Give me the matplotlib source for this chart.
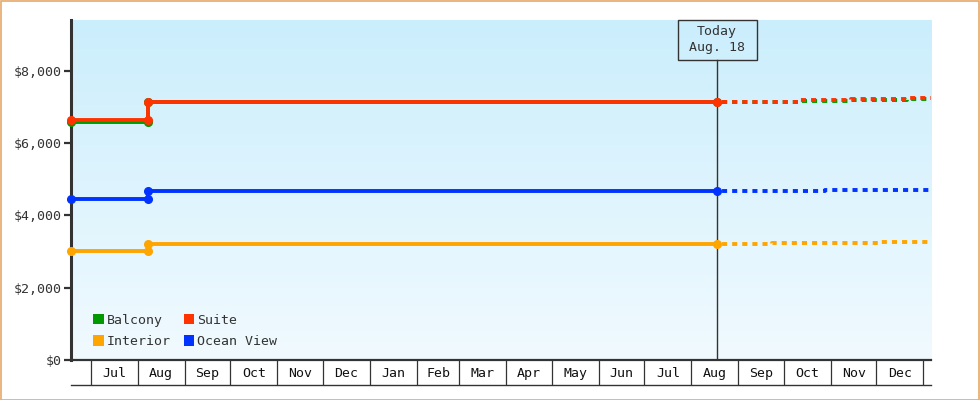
import matplotlib
matplotlib.use('Agg')
import matplotlib.pyplot as plt
import matplotlib.dates as mdates
import matplotlib.transforms as mtransforms
import numpy as np
import pandas as pd
from matplotlib.patches import Patch, Rectangle

# ---------------- data ----------------
categories = ['Balcony', 'Suite', 'Interior', 'Ocean View']
series_colors = ['#009900', '#ff3300', '#ffa500', '#0033ff']

hist_dates = ['2017-06-18', '2017-08-08', '2017-08-08', '2018-08-18']
balcony_hist = [6590, 6590, 7125, 7125]
suite_hist = [6640, 6640, 7145, 7145]
interior_hist = [3020, 3020, 3210, 3210]
ocean_hist = [4450, 4450, 4660, 4660]

balcony_fc_dates = ['2018-08-18', '2018-10-10', '2018-11-14', '2018-12-21', '2019-01-06']
balcony_fc = [7120, 7150, 7185, 7215, 7215]
suite_fc_dates = ['2018-08-18', '2018-10-10', '2018-11-14', '2018-12-21', '2019-01-06']
suite_fc = [7145, 7195, 7225, 7255, 7255]
interior_fc_dates = ['2018-08-18', '2018-09-23', '2018-12-02', '2019-01-06']
interior_fc = [3210, 3240, 3265, 3265]
ocean_fc_dates = ['2018-08-18', '2018-10-28', '2019-01-06']
ocean_fc = [4660, 4690, 4690]

month_starts = ['2017-07-01', '2017-08-01', '2017-09-01', '2017-10-01', '2017-11-01',
                '2017-12-01', '2018-01-01', '2018-02-01', '2018-03-01', '2018-04-01',
                '2018-05-01', '2018-06-01', '2018-07-01', '2018-08-01', '2018-09-01',
                '2018-10-01', '2018-11-01', '2018-12-01', '2019-01-01']
month_labels = ['Jul', 'Aug', 'Sep', 'Oct', 'Nov', 'Dec', 'Jan', 'Feb', 'Mar', 'Apr',
                'May', 'Jun', 'Jul', 'Aug', 'Sep', 'Oct', 'Nov', 'Dec']
y_ticks = [0, 2000, 4000, 6000, 8000]
y_tick_labels = ['$0', '$2,000', '$4,000', '$6,000', '$8,000']
today_date = '2018-08-18'
today_label = 'Today\nAug. 18'
x_start, x_end = '2017-06-18', '2019-01-06'
y_max = 9400

# ---------------- figure ----------------
W, H, DPI = 980, 400, 100
AX_L, AX_B, AX_W, AX_H = 71, 40, 860, 340
fig = plt.figure(figsize=(W / DPI, H / DPI), dpi=DPI)
fig.patch.set_facecolor('white')
fig.patches.append(Rectangle((0.5 / W, 0.5 / H), 1 - 1.5 / W, 1 - 1.5 / H,
                             transform=fig.transFigure, fill=False,
                             edgecolor='#e6a96b', linewidth=1.2))

ax = fig.add_axes([AX_L / W, AX_B / H, AX_W / W, AX_H / H])
FONT = 'DejaVu Sans Mono'
DARK = '#333333'

# gradient background
top = np.array([203, 238, 252]) / 255.0
bot = np.array([241, 250, 255]) / 255.0
t = np.linspace(0, 1, 256)[:, None]
grad = (top[None, :] * (1 - t) + bot[None, :] * t)[:, None, :]
ax.imshow(grad, extent=[0, 1, 0, 1], transform=ax.transAxes, aspect='auto',
          zorder=0, interpolation='bilinear')

to_d = lambda lst: pd.to_datetime(lst)
hd = to_d(hist_dates)

lw = 2.8
ms = 5.5
hist_vals = [balcony_hist, suite_hist, interior_hist, ocean_hist]
fc_dates = [balcony_fc_dates, suite_fc_dates, interior_fc_dates, ocean_fc_dates]
fc_vals = [balcony_fc, suite_fc, interior_fc, ocean_fc]
order = [2, 3, 0, 1]  # interior, ocean, balcony, suite (suite on top)

# today line and box
td = pd.to_datetime(today_date)
x0n = mdates.date2num(pd.to_datetime(x_start))
x1n = mdates.date2num(pd.to_datetime(x_end))
dpp = (x1n - x0n) / AX_W  # days per pixel
tdn = mdates.date2num(td)
blend = mtransforms.blended_transform_factory(ax.transData, ax.transAxes)
ax.axvline(td, ymin=0, ymax=(AX_H - 40) / AX_H, color=DARK, lw=1.0, zorder=3)
ax.add_patch(Rectangle((tdn - 39.5 * dpp, (AX_H - 40) / AX_H), 79 * dpp, 40 / AX_H,
                       transform=blend, facecolor='none', edgecolor=DARK, lw=1.0,
                       clip_on=False, zorder=6))
ax.text(td, 1 - 20 / AX_H, today_label, transform=blend,
        ha='center', va='center', fontsize=9.5, family=FONT, color=DARK, linespacing=1.3,
        zorder=6)

for i in order:
    c = series_colors[i]
    ax.plot(hd, hist_vals[i], color=c, lw=lw, marker='o', ms=ms, mec=c, mfc=c,
            solid_capstyle='butt', zorder=4 + i * 0.1, clip_on=False)
    ax.plot(to_d(fc_dates[i]), fc_vals[i], color=c, lw=lw, drawstyle='steps-post',
            linestyle=(1.3, (1.3, 1.3)), dash_capstyle='butt', zorder=4 + i * 0.1)

ax.set_xlim(pd.to_datetime(x_start), pd.to_datetime(x_end))
ax.set_ylim(0, y_max)

# spines
for s in ['top', 'right']:
    ax.spines[s].set_visible(False)
ax.spines['left'].set_color(DARK)
ax.spines['left'].set_linewidth(2.2)
ax.spines['bottom'].set_color(DARK)
ax.spines['bottom'].set_linewidth(1.6)

# y ticks
ax.set_yticks(y_ticks)
ax.set_yticklabels(y_tick_labels, family=FONT, fontsize=9.5, color=DARK)
ax.tick_params(axis='y', direction='out', length=5, width=1.6, color=DARK, pad=2)

# x ticks: separators at month starts, labels at mid-month
ms_d = to_d(month_starts)
mids = [ms_d[k] + (ms_d[k + 1] - ms_d[k]) / 2 for k in range(len(ms_d) - 1)]
ax.set_xticks(ms_d)
ax.set_xticklabels([])
ax.tick_params(axis='x', which='major', direction='out', length=18, width=0.9, color=DARK)
ax.set_xticks(mids, minor=True)
ax.set_xticklabels(month_labels, minor=True, family=FONT, fontsize=9.5, color='#111111')
ax.tick_params(axis='x', which='minor', length=0, pad=5)

# bottom line under month boxes
ax.plot([0, 1], [-25 / AX_H, -25 / AX_H], transform=ax.transAxes, color=DARK,
        lw=1.0, clip_on=False, zorder=5)

# legend
handles = [Patch(facecolor=series_colors[k], edgecolor='none') for k in [0, 2, 1, 3]]
labels = [categories[k] for k in [0, 2, 1, 3]]
leg = ax.legend(handles, labels, ncol=2, loc='lower left', bbox_to_anchor=(0.012, 0.0),
                frameon=False, handlelength=0.8, handleheight=0.8, handletextpad=0.2,
                columnspacing=1.0, labelspacing=0.62,
                prop={'family': FONT, 'size': 9.5})
for txt in leg.get_texts():
    txt.set_color(DARK)

fig.savefig('out.png', dpi=DPI)
